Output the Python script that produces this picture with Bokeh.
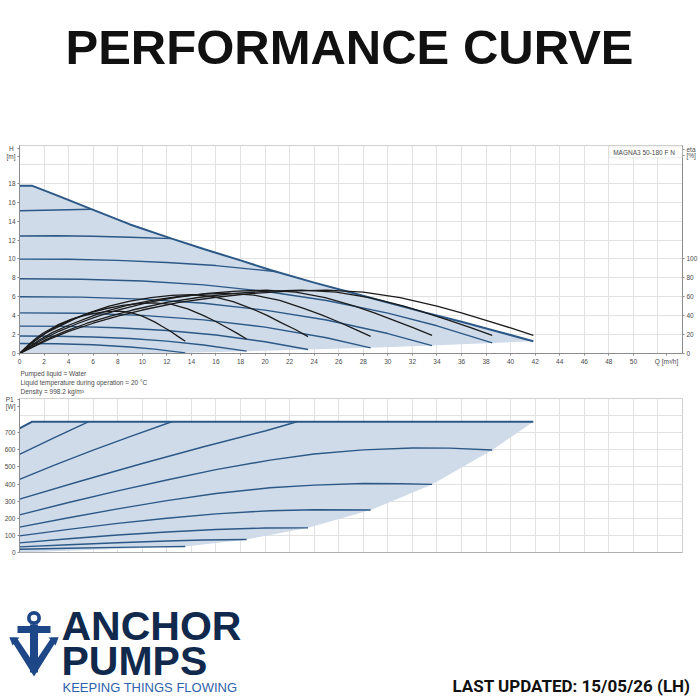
from bokeh.plotting import figure
from bokeh.models import Range1d, LinearAxis, FixedTicker, Label, BoxAnnotation, Span
from bokeh.layouts import column, row
from bokeh.embed import file_html
from bokeh.resources import INLINE
from bokeh.core.properties import value

# ---------------- data ----------------
TITLE = "PERFORMANCE CURVE"
MODEL = "MAGNA3 50-180 F N"
LIQUID_NOTES = ["Pumped liquid = Water",
                "Liquid temperature during operation = 20 \u00b0C",
                "Density = 998.2 kg/m\u00b3"]
UPDATED = "LAST UPDATED: 15/05/26 (LH)"

q_ticks = list(range(0, 51, 2))
q_grid = list(range(0, 55, 2))
h_ticks = list(range(0, 19, 2))
h_grid = list(range(0, 23, 2))
eta_ticks = [0, 20, 40, 60, 80, 100]
p_ticks = list(range(0, 701, 100))
p_grid = list(range(0, 901, 100))

# axis unit captions and where they sit on their axes
q_unit = {52.7: "Q [m\u00b3/h]"}
h_unit = {21.7: "H\u00a0", 20.85: "[m]"}
eta_unit = {215.8: "eta", 208.9: "[%]"}
p_unit = {892: "P1\u00a0", 852: "[W]"}

# maximum head curve (Q m3/h, H m)
max_q = [0, 1, 3, 5.8, 9, 12.4, 15, 18, 20.5, 24, 27, 30, 33, 36, 39, 41.85]
max_h = [17.75, 17.75, 16.75, 15.3, 13.65, 12.15, 11.05, 9.85, 8.8, 7.5, 6.45, 5.4, 4.35, 3.35, 2.3, 1.3]

# reduced-speed head curves
speed_q = [
    [0, 2, 4, 5.8],
    [0, 3, 6, 9, 12.4],
    [0, 4, 8, 12, 16, 21],
    [0, 5, 10, 15, 20, 25, 30, 34, 38.5],
    [0, 5, 10, 15, 20, 25, 30, 33.6],
    [0, 5, 10, 15, 20, 25, 28.6],
    [0, 4, 8, 12, 16, 20, 23.5],
    [0, 3, 6, 9, 12, 15, 18.5],
    [0, 3, 6, 9, 11, 13.5],
]
speed_h = [
    [15.1, 15.15, 15.2, 15.25],
    [12.43, 12.45, 12.4, 12.3, 12.15],
    [9.98, 9.97, 9.85, 9.62, 9.3, 8.65],
    [7.9, 7.86, 7.67, 7.26, 6.58, 5.6, 4.27, 2.93, 1.12],
    [6.0, 5.96, 5.75, 5.31, 4.59, 3.54, 2.11, 0.84],
    [4.3, 4.25, 4.03, 3.56, 2.79, 1.66, 0.6],
    [2.9, 2.87, 2.73, 2.44, 1.95, 1.24, 0.42],
    [1.85, 1.83, 1.75, 1.59, 1.31, 0.9, 0.25],
    [1.05, 1.03, 0.92, 0.69, 0.46, 0.07],
]

# efficiency curves (eta %)
eta_q = [
    [0, 0.8, 1.3, 1.9, 2.6, 3.2, 4.2, 5.2, 6.1, 7.1, 8.1, 9.0, 10.0, 11.0, 11.6, 12.3, 12.9, 13.5],
    [0, 1.1, 1.8, 2.6, 3.5, 4.4, 5.8, 7.1, 8.4, 9.7, 11.0, 12.4, 13.7, 15.0, 15.9, 16.8, 17.7, 18.5],
    [0, 1.3, 2.2, 3.4, 4.5, 5.6, 7.3, 9.0, 10.7, 12.4, 14.0, 15.7, 17.4, 19.1, 20.2, 21.3, 22.5, 23.5],
    [0, 1.6, 2.7, 4.1, 5.5, 6.8, 8.9, 10.9, 13.0, 15.0, 17.1, 19.1, 21.2, 23.2, 24.6, 26.0, 27.3, 28.6],
    [0, 1.9, 3.2, 4.8, 6.4, 8.0, 10.5, 12.8, 15.3, 17.7, 20.1, 22.5, 24.9, 27.3, 28.9, 30.5, 32.1, 33.6],
    [0, 2.2, 3.7, 5.5, 7.4, 9.2, 12.0, 14.7, 17.5, 20.3, 23.0, 25.8, 28.5, 31.3, 33.1, 35.0, 36.8, 38.5],
    [0, 2.4, 4, 6, 8, 10, 13, 16, 19, 22, 25, 28, 31, 34, 36, 38, 40, 41.85],
]
eta_v = [
    [0, 10.0, 15.7, 21.4, 26.5, 30.8, 36.2, 39.9, 42.5, 44.2, 44.9, 43.6, 39.5, 33.5, 28.8, 23.5, 18.1, 12.9],
    [0, 12, 18.8, 25.6, 31.6, 36.8, 43.2, 47.6, 50.8, 52.8, 53.6, 52, 47.2, 40, 34.4, 28, 21.6, 15.4],
    [0, 14, 21.9, 29.8, 36.7, 42.8, 50.2, 55.3, 59.1, 61.4, 62.3, 60.5, 54.9, 46.5, 40, 32.6, 25.1, 17.9],
    [0, 14.3, 22.3, 30.4, 37.5, 43.7, 51.3, 56.5, 60.3, 62.7, 63.7, 61.8, 56.1, 47.5, 40.9, 33.3, 25.7, 18.2],
    [0, 15, 23.5, 32, 39.5, 46, 54, 59.5, 63.5, 66, 67, 65, 59, 50, 43, 35, 27, 19.2],
    [0, 15, 23.5, 32, 39.5, 46, 54, 59.5, 63.5, 66, 67, 65, 59, 50, 43, 35, 27, 19.2],
    [0, 15, 23.5, 32, 39.5, 46, 54, 59.5, 63.5, 66, 67, 65, 59, 50, 43, 35, 27, 19.2],
]

# power curves (P1 W)
max_p_q = [0, 1, 41.85]
max_p = [725, 764, 764]
power_q = [
    [0, 2.8, 5.6],
    [0, 3, 6, 9, 12.4],
    [0, 5, 10, 15, 20, 22.6],
    [0, 4, 8, 12, 16, 20.4, 24, 28, 32, 35, 38.5],
    [0, 4, 8, 12, 16, 20.4, 24, 28, 31, 33.6],
    [0, 4, 8, 12, 16, 20.4, 24, 28.6],
    [0, 4, 8, 12, 16, 20, 23.5],
    [0, 4, 8, 12, 15, 18.5],
    [0, 4, 8, 11, 13.5],
]
power_p = [
    [573, 670, 764],
    [427, 515, 598, 677, 764],
    [312, 418, 520, 618, 710, 764],
    [220, 292, 360, 424, 484, 540, 576, 600, 611, 610, 599],
    [148, 203, 255, 303, 345, 378, 394, 403, 402, 398],
    [97, 135, 170, 200, 226, 244, 250, 248],
    [56, 80, 102, 120, 134, 143, 144],
    [33, 45, 57, 67, 73, 76],
    [19, 25, 30, 33, 35],
]

# ---------------- styles ----------------
BLUE = "#2b5886"
FILL = "#cfdbe9"
BLACK = "#1b1b1b"
GRID = "#e2e2e2"
AXIS = "#8c8c8c"
TXT = "#4a4a4a"
FONT = "Liberation Sans"
TS = "6.5px"


def style_axis(ax):
    ax.axis_line_color = AXIS
    ax.major_tick_line_color = AXIS
    ax.minor_tick_line_color = None
    ax.major_tick_in = 0
    ax.major_tick_out = 2
    ax.major_label_standoff = 2
    ax.major_label_text_font = FONT
    ax.major_label_text_font_size = TS
    ax.major_label_text_color = TXT


def blank(h):
    f = figure(width=700, height=h, x_range=Range1d(0, 700), y_range=Range1d(h, 0),
               x_axis_location=None, y_axis_location=None, output_backend="svg",
               toolbar_location=None, min_border=0, outline_line_color=None)
    f.grid.visible = False
    return f

# ---------------- header ----------------
hdr = blank(135)
hdr.text(x=[349], y=[46], text=[TITLE], text_align="center", text_baseline="middle",
         text_font=value(FONT), text_font_style="bold", text_font_size="49px", text_color="#111111")

# ---------------- head / efficiency chart ----------------
p1 = figure(width=700, height=232, x_range=Range1d(0, 54), y_range=Range1d(0, 22),
            output_backend="svg", toolbar_location=None,
            min_border_left=19, min_border_right=18, min_border_top=10, min_border_bottom=13)
p1.extra_y_ranges = {"eta": Range1d(0, 220)}
p1.add_layout(LinearAxis(y_range_name="eta", ticker=FixedTicker(ticks=eta_ticks + list(eta_unit)),
                         major_label_overrides=eta_unit), "right")
p1.xaxis.ticker = FixedTicker(ticks=q_ticks + list(q_unit))
p1.xaxis.major_label_overrides = q_unit
p1.yaxis[0].ticker = FixedTicker(ticks=h_ticks + list(h_unit))
p1.yaxis[0].major_label_overrides = h_unit
p1.xgrid.ticker = FixedTicker(ticks=q_grid)
p1.ygrid.ticker = FixedTicker(ticks=h_grid)
p1.grid.grid_line_color = GRID
p1.outline_line_color = "#cfcfcf"
for ax in p1.xaxis + p1.yaxis:
    style_axis(ax)

top_x = max_q + [sq[-1] for sq in speed_q[3:]] + [0]
top_y = max_h + [sh[-1] for sh in speed_h[3:]] + [0]
p1.patch(top_x, top_y, fill_color=FILL, line_color=None)
p1.multi_line(speed_q, speed_h, line_color=BLUE, line_width=1.4)
p1.line(max_q, max_h, line_color=BLUE, line_width=2)
p1.multi_line(eta_q, eta_v, y_range_name="eta", line_color=BLACK, line_width=1.3)

p1.add_layout(BoxAnnotation(left=48.0, right=54, top=21.85, bottom=20.7,
                            fill_color="white", fill_alpha=1, line_color="#bdbdbd", line_width=1))
p1.add_layout(Label(x=48.35, y=21.28, text=MODEL, text_align="left", text_baseline="middle",
                    text_font=FONT, text_font_size=TS, text_color=TXT))

# ---------------- liquid notes ----------------
mid = blank(30)
mid.text(x=[20, 20, 20], y=[6, 15, 23.5], text=LIQUID_NOTES, text_align="left", text_baseline="middle",
         text_font=value(FONT), text_font_size=TS, text_color=TXT)

# ---------------- power chart ----------------
p2 = figure(width=700, height=163, x_range=Range1d(0, 54), y_range=Range1d(0, 900),
            x_axis_location=None, output_backend="svg", toolbar_location=None,
            min_border_left=19, min_border_right=18, min_border_top=1, min_border_bottom=8)
p2.yaxis.ticker = FixedTicker(ticks=p_ticks + list(p_unit))
p2.yaxis.major_label_overrides = p_unit
p2.xgrid.ticker = FixedTicker(ticks=q_grid)
p2.ygrid.ticker = FixedTicker(ticks=p_grid)
p2.grid.grid_line_color = GRID
p2.outline_line_color = "#cfcfcf"
style_axis(p2.yaxis[0])
p2.add_layout(Span(location=0, dimension="width", line_color=AXIS, line_width=1))

low_x = max_p_q + [pq[-1] for pq in power_q[3:]] + [0]
low_y = max_p + [pp[-1] for pp in power_p[3:]] + [0]
p2.patch(low_x, low_y, fill_color=FILL, line_color=None)
p2.multi_line(power_q, power_p, line_color=BLUE, line_width=1.4)
p2.line(max_p_q, max_p, line_color=BLUE, line_width=2)

# ---------------- footer ----------------
ftr = blank(140)
NAVY = "#10294d"
ANCH = "#1d4786"
ftr.annulus(x=[33.5], y=[57.5], inner_radius=3.3, outer_radius=7.0, fill_color=ANCH, line_color=None)
ftr.quad(left=[17], right=[50], top=[65.5], bottom=[72.5], fill_color=ANCH, line_color=None)
ftr.quad(left=[29.5], right=[37.5], top=[64], bottom=[112], fill_color=ANCH, line_color=None)
ftr.patch([9, 16, 33.5, 51, 58, 33.5], [77, 77, 103, 77, 77, 116], fill_color=ANCH, line_color=None)
ftr.patch([9, 19, 12], [77, 77, 85], fill_color=ANCH, line_color=None)
ftr.patch([58, 48, 55], [77, 77, 85], fill_color=ANCH, line_color=None)
ftr.text(x=[61, 61], y=[65, 100], text=["ANCHOR", "PUMPS"], text_align="left", text_baseline="middle",
         text_font=value(FONT), text_font_style="bold", text_font_size="41px", text_color=NAVY)
ftr.text(x=[62], y=[127], text=["KEEPING THINGS FLOWING"], text_align="left", text_baseline="middle",
         text_font=value(FONT), text_font_size="13px", text_color="#2f62ad")
ftr.text(x=[690], y=[125], text=[UPDATED], text_align="right", text_baseline="middle",
         text_font=value("Roboto"), text_font_style="bold", text_font_size="17px", text_color="#111111")

layout = column(row(hdr), p1, row(mid), p2, row(ftr), spacing=0)
open("out.html", "w").write(file_html(layout, INLINE))
